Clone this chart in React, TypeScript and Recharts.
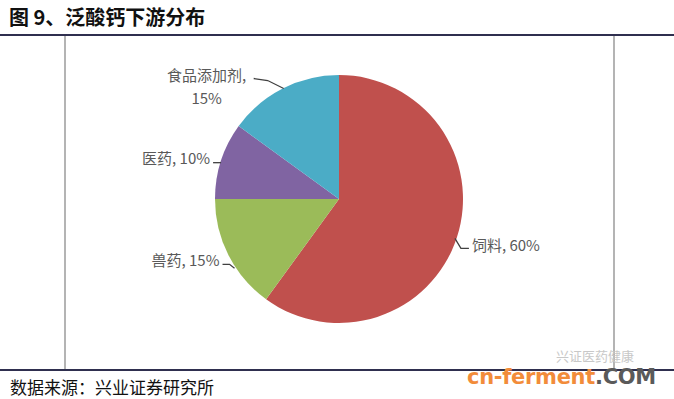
import React from 'react';
import { PieChart, Pie, Cell } from 'recharts';

// data
const categories = ['饲料', '兽药', '医药', '食品添加剂'];
const shares = [60, 15, 10, 15];
const sliceColors = ['#C0504D', '#9BBB59', '#8064A2', '#4BACC6'];

const pieData = categories.map((name, i) => ({ name, value: shares[i] }));

const RAD = Math.PI / 180;
const LABEL_FONT = '"Noto Sans CJK SC", "Noto Sans", sans-serif';

// per-label leader line / text placement, relative to the slice's outer edge point
const labelLayout: Record<string, { line: number[][]; tx: number; ty: number; anchor: 'start' | 'end' | 'middle'; lines: (v: number, n: string) => string[] }> = {
  饲料: { line: [[-2, 1], [4, 11], [12, 11]], tx: 15, ty: 7, anchor: 'start', lines: (v, n) => [`${n}, ${v}%`] },
  兽药: { line: [[6, 13], [1, 9], [-6, 9]], tx: -9, ty: 4, anchor: 'end', lines: (v, n) => [`${n}, ${v}%`] },
  医药: { line: [[0, 2], [-8, 2]], tx: -11, ty: -3, anchor: 'end', lines: (v, n) => [`${n}, ${v}%`] },
  食品添加剂: { line: [[1, 0], [-15, -8], [-29, -10]], tx: -76, ty: -14, anchor: 'middle', lines: (v, n) => [`${n},`, `${v}%`] },
};

const renderLabel = (props: any) => {
  const { cx, cy, midAngle, outerRadius, name, value } = props;
  const ex = cx + outerRadius * Math.cos(-midAngle * RAD);
  const ey = cy + outerRadius * Math.sin(-midAngle * RAD);
  const cfg = labelLayout[name];
  if (!cfg) return null;
  const d = cfg.line.map((p, i) => `${i === 0 ? 'M' : 'L'}${ex + p[0]},${ey + p[1]}`).join(' ');
  const rows = cfg.lines(value, name);
  return (
    <g>
      <path d={d} stroke="#404040" strokeWidth={1.3} fill="none" />
      {rows.map((r, i) => (
        <text
          key={i}
          x={ex + cfg.tx}
          y={ey + cfg.ty + i * 23}
          textAnchor={cfg.anchor}
          dominantBaseline="central"
          fontSize={15}
          fontFamily={LABEL_FONT}
          fill="#595959"
        >
          {r}
        </text>
      ))}
    </g>
  );
};

export default function App() {
  return (
    <div style={{ position: 'absolute', left: 0, top: 0, width: 674, height: 399, background: '#fff', overflow: 'hidden' }}>
      {/* title */}
      <div style={{ position: 'absolute', left: 9, top: 2, fontFamily: LABEL_FONT, fontWeight: 700, fontSize: 20, color: '#111', whiteSpace: 'nowrap' }}>
        图 9、泛酸钙下游分布
      </div>
      <div style={{ position: 'absolute', left: 0, top: 34, width: 674, height: 2, background: '#2F2F4F' }} />

      {/* chart frame */}
      <div style={{ position: 'absolute', left: 64, top: 36, width: 547, height: 333, borderLeft: '2px solid #B4B4B4', borderRight: '2px solid #B4B4B4' }} />

      <div style={{ position: 'absolute', left: 0, top: 0 }}>
        <PieChart width={674} height={399} margin={{ top: 0, right: 0, bottom: 0, left: 0 }}>
          <Pie
            data={pieData}
            dataKey="value"
            nameKey="name"
            cx={339}
            cy={199}
            outerRadius={124}
            startAngle={90}
            endAngle={-270}
            stroke="none"
            label={renderLabel}
            labelLine={false}
            isAnimationActive={false}
          >
            {pieData.map((_, i) => (
              <Cell key={`cell-${i}`} fill={sliceColors[i]} />
            ))}
          </Pie>
        </PieChart>
      </div>

      <div style={{ position: 'absolute', left: 0, top: 369, width: 674, height: 2, background: '#2F2F4F' }} />

      {/* source */}
      <div style={{ position: 'absolute', left: 10, top: 374, fontFamily: LABEL_FONT, fontSize: 17, color: '#111', whiteSpace: 'nowrap' }}>
        数据来源：兴业证券研究所
      </div>

      {/* watermark */}
      <div style={{ position: 'absolute', left: 556, top: 349, lineHeight: '14px', fontFamily: LABEL_FONT, fontSize: 13, color: '#C8C8C8', whiteSpace: 'nowrap' }}>
        兴证医药健康
      </div>
      <div style={{ position: 'absolute', left: 467, top: 367, lineHeight: '21px', fontFamily: '"DejaVu Sans", sans-serif', fontWeight: 700, fontSize: 21, whiteSpace: 'nowrap', letterSpacing: -0.3 }}>
        <span style={{ color: '#F28C3A' }}>cn-ferment</span>
        <span style={{ color: '#5A5A5A' }}>.COM</span>
      </div>
    </div>
  );
}
